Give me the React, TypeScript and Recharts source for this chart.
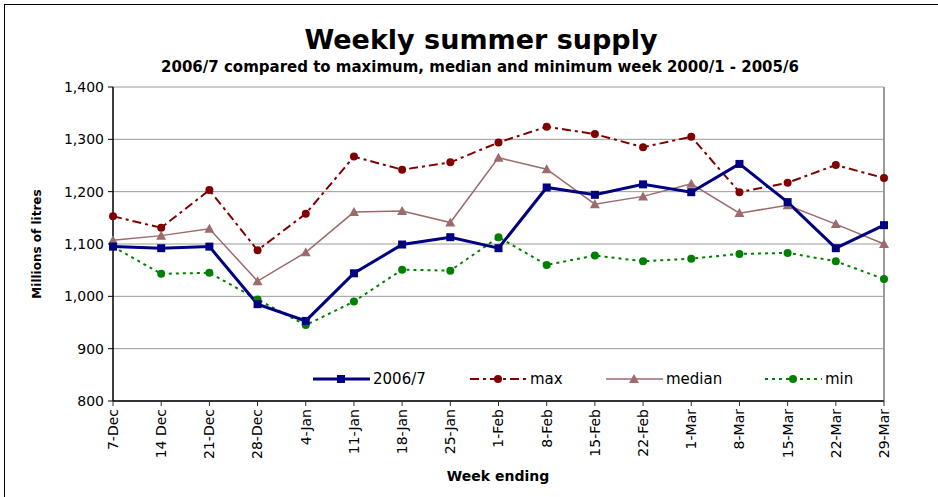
import { LineChart, Line, XAxis, YAxis, CartesianGrid, ReferenceLine, Legend } from "recharts";

const weeks = [
  "7-Dec", "14 Dec", "21-Dec", "28-Dec", "4-Jan", "11-Jan", "18-Jan", "25-Jan", "1-Feb",
  "8-Feb", "15-Feb", "22-Feb", "1-Mar", "8-Mar", "15-Mar", "22-Mar", "29-Mar",
];
const season2006 = [1095, 1092, 1095, 985, 953, 1044, 1099, 1113, 1092, 1208, 1194, 1214, 1199, 1253, 1180, 1092, 1136];
const maxWeek = [1153, 1131, 1203, 1088, 1158, 1267, 1242, 1256, 1294, 1324, 1310, 1285, 1305, 1199, 1217, 1251, 1226];
const medianWeek = [1107, 1116, 1129, 1029, 1084, 1161, 1163, 1141, 1265, 1243, 1176, 1191, 1215, 1159, 1174, 1138, 1100];
const minWeek = [1095, 1043, 1045, 994, 945, 990, 1051, 1049, 1113, 1060, 1078, 1067, 1072, 1081, 1083, 1067, 1033];
const yTicks = [800, 900, 1000, 1100, 1200, 1300, 1400];

const data = weeks.map((week, i) => ({
  week,
  s2006: season2006[i],
  max: maxWeek[i],
  median: medianWeek[i],
  min: minWeek[i],
}));

const FONT = "'DejaVu Sans', sans-serif";
const NAVY = "#000080";
const MAROON = "#800000";
const ROSE = "#9c6b6b";
const GREEN = "#008000";

const Square = (props: any) => {
  const { cx, cy, fill } = props;
  if (cx == null || cy == null) return null;
  return <rect x={cx - 4} y={cy - 4} width={8} height={8} fill={fill} />;
};

const Triangle = (props: any) => {
  const { cx, cy, fill } = props;
  if (cx == null || cy == null) return null;
  return <path d={`M${cx},${cy - 5} L${cx + 5},${cy + 4} L${cx - 5},${cy + 4} Z`} fill={fill} />;
};

const Circle = (props: any) => {
  const { cx, cy, fill } = props;
  if (cx == null || cy == null) return null;
  return <circle cx={cx} cy={cy} r={4} fill={fill} />;
};

const WeekTick = (props: any) => {
  const { x, y, payload } = props;
  return (
    <text
      x={x}
      y={y + 1}
      transform={`rotate(-90, ${x}, ${y + 1})`}
      textAnchor="end"
      dy="0.35em"
      fontSize={14}
      fontFamily={FONT}
      fill="#000"
    >
      {payload.value}
    </text>
  );
};

// legend drawn inside the plot, like the spreadsheet original
const legendItems = [
  { label: "2006/7", x: 13, color: NAVY, width: 3, dash: undefined, marker: "square" },
  { label: "max", x: 170, color: MAROON, width: 2, dash: "9 4 3 4", marker: "circle" },
  { label: "median", x: 306, color: ROSE, width: 1.5, dash: undefined, marker: "triangle" },
  { label: "min", x: 465, color: GREEN, width: 2, dash: "3 4", marker: "circle" },
];

const ChartLegend = () => (
  <svg width={600} height={24}>
    {legendItems.map((it) => {
      const cy = 12;
      const mx = it.x + 28;
      return (
        <g key={it.label}>
          <line x1={it.x} x2={it.x + 57} y1={cy} y2={cy} stroke={it.color} strokeWidth={it.width} strokeDasharray={it.dash} />
          {it.marker === "square" && <Square cx={mx} cy={cy} fill={it.color} />}
          {it.marker === "circle" && <Circle cx={mx} cy={cy} fill={it.color} />}
          {it.marker === "triangle" && <Triangle cx={mx} cy={cy} fill={it.color} />}
          <text x={it.x + 60} y={cy} dy="0.35em" fontSize={15} fontFamily={FONT} fill="#000">
            {it.label}
          </text>
        </g>
      );
    })}
  </svg>
);

export default function App() {
  return (
    <div
      style={{
        position: "absolute",
        left: 0,
        top: 0,
        width: 938,
        height: 497,
        overflow: "hidden",
        background: "#fff",
        fontFamily: FONT,
      }}
    >
      <div
        style={{
          position: "absolute",
          left: 4,
          top: 4,
          width: 1000,
          height: 600,
          border: "1.5px solid #000",
        }}
      />
      <div
        style={{
          position: "absolute",
          left: 0,
          width: 962,
          top: 23,
          textAlign: "center",
          fontSize: 27,
          fontWeight: "bold",
          lineHeight: "34px",
        }}
      >
        Weekly summer supply
      </div>
      <div
        style={{
          position: "absolute",
          left: 0,
          width: 960,
          top: 57,
          textAlign: "center",
          fontSize: 15,
          fontWeight: "bold",
          lineHeight: "20px",
        }}
      >
        2006/7 compared to maximum, median and minimum week 2000/1 - 2005/6
      </div>
      <div
        style={{
          position: "absolute",
          left: 37,
          top: 244,
          transform: "translate(-50%, -50%) rotate(-90deg)",
          fontSize: 12,
          fontWeight: "bold",
          whiteSpace: "nowrap",
        }}
      >
        Millions of litres
      </div>
      <div
        style={{
          position: "absolute",
          left: 498,
          top: 476,
          transform: "translate(-50%, -50%)",
          fontSize: 14,
          fontWeight: "bold",
          whiteSpace: "nowrap",
        }}
      >
        Week ending
      </div>
      <LineChart
        width={938}
        height={497}
        data={data}
        margin={{ top: 87, right: 54, bottom: 0, left: 0 }}
        style={{ position: "absolute", left: 0, top: 0 }}
      >
        <CartesianGrid vertical={false} stroke="#9a9a9a" strokeWidth={1} />
        <ReferenceLine x="29-Mar" stroke="#9a9a9a" strokeWidth={2} />
        <XAxis
          dataKey="week"
          interval={0}
          height={96}
          tickSize={5}
          tickMargin={2}
          axisLine={{ stroke: "#333", strokeWidth: 2 }}
          tickLine={{ stroke: "#333" }}
          tick={<WeekTick />}
        />
        <YAxis
          width={113}
          domain={[800, 1400]}
          ticks={yTicks}
          interval={0}
          tickSize={5}
          tickMargin={4}
          axisLine={{ stroke: "#000", strokeWidth: 1.5 }}
          tickLine={{ stroke: "#000" }}
          tick={{ fontSize: 14, fontFamily: FONT, fill: "#000" }}
          tickFormatter={(v: number) => v.toLocaleString("en-US")}
        />
        <Legend
          layout="horizontal"
          verticalAlign="middle"
          align="center"
          content={<ChartLegend />}
          wrapperStyle={{ left: 300, top: 367, width: 600, height: 24 }}
        />
        <Line
          type="linear"
          dataKey="max"
          name="max"
          stroke={MAROON}
          strokeWidth={2}
          strokeDasharray="9 4 3 4"
          dot={<Circle fill={MAROON} />}
          activeDot={false}
          isAnimationActive={false}
        />
        <Line
          type="linear"
          dataKey="median"
          name="median"
          stroke={ROSE}
          strokeWidth={1.5}
          dot={<Triangle fill={ROSE} />}
          activeDot={false}
          isAnimationActive={false}
        />
        <Line
          type="linear"
          dataKey="min"
          name="min"
          stroke={GREEN}
          strokeWidth={2}
          strokeDasharray="3 4"
          dot={<Circle fill={GREEN} />}
          activeDot={false}
          isAnimationActive={false}
        />
        <Line
          type="linear"
          dataKey="s2006"
          name="2006/7"
          stroke={NAVY}
          strokeWidth={3}
          dot={<Square fill={NAVY} />}
          activeDot={false}
          isAnimationActive={false}
        />
      </LineChart>
    </div>
  );
}
